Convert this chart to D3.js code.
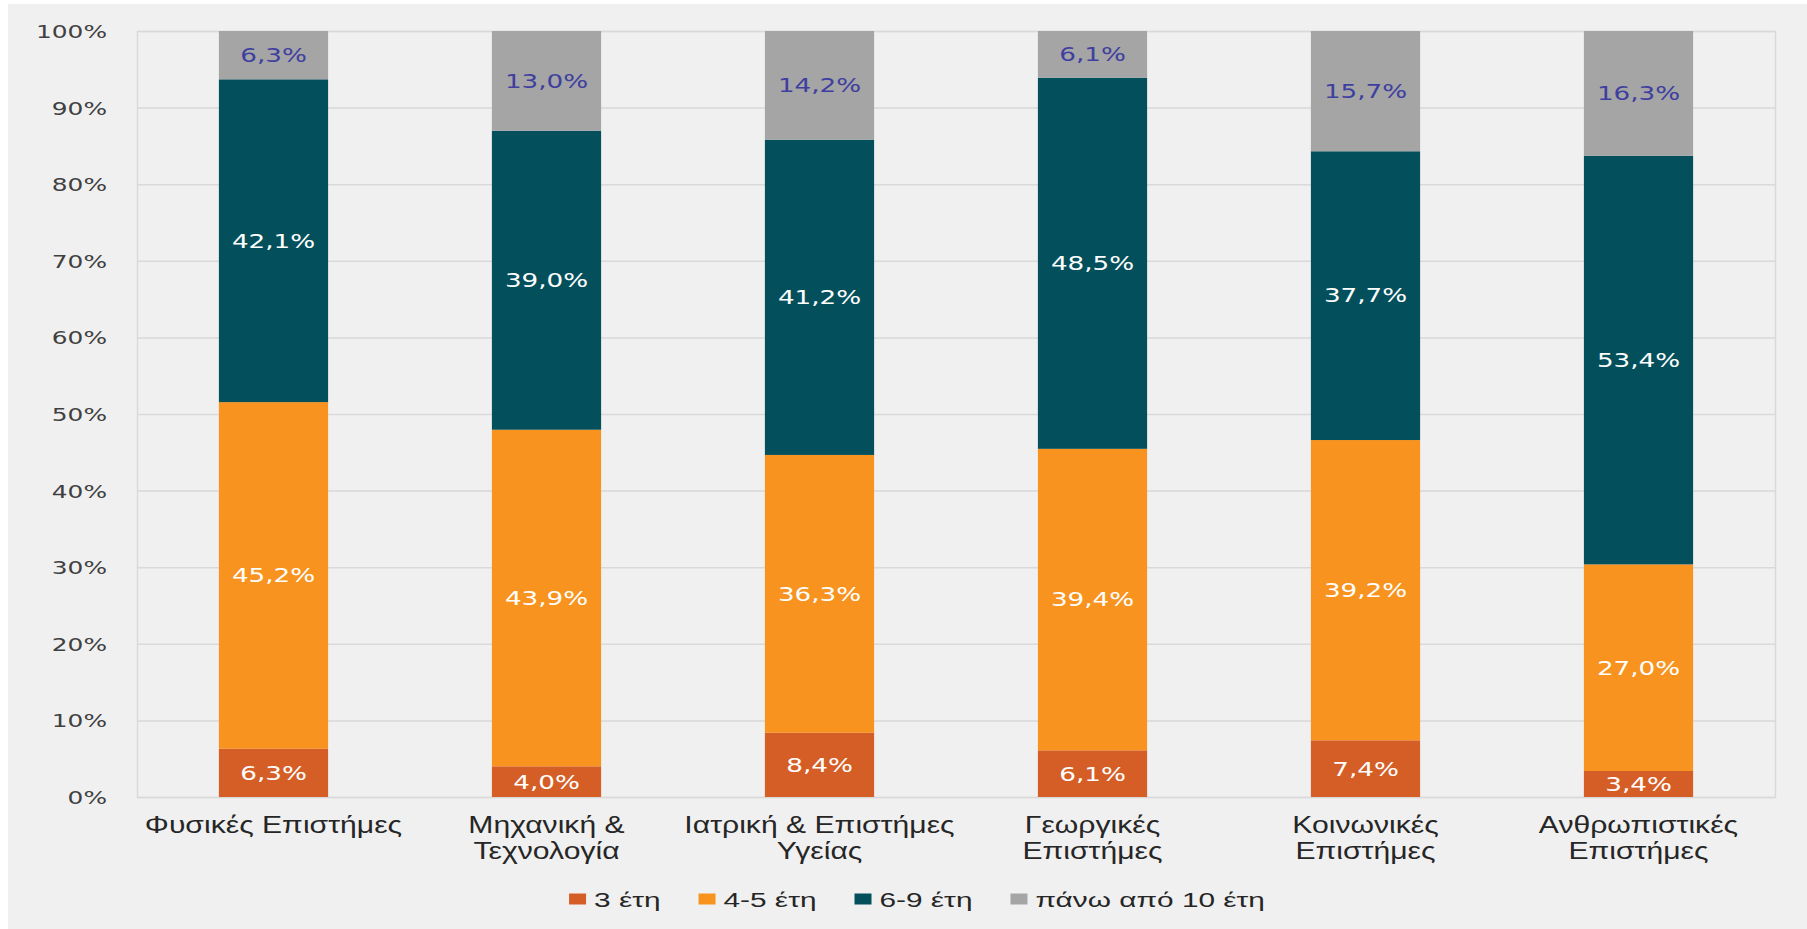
<!DOCTYPE html>
<html>
<head>
<meta charset="utf-8">
<script src="https://cdn.jsdelivr.net/npm/d3@7"></script>
<style>
  html, body { margin: 0; padding: 0; background: #ffffff; }
  svg { display: block; }
  .tick-label { font-family: "DejaVu Sans", Verdana, sans-serif; font-size: 18px; fill: #404040; }
  .value { font-family: "DejaVu Sans", Verdana, sans-serif; font-size: 19px; }
  .cat { font-family: "Liberation Sans", Arial, sans-serif; font-size: 23px; fill: #262626; }
  .legend-text { font-family: "Liberation Sans", Arial, sans-serif; font-size: 21px; fill: #262626; }
</style>
</head>
<body>
<svg></svg>
<script>
// categories (each split into the lines shown under the axis)
const categories = [
  "Φυσικές Επιστήμες",
  "Μηχανική & Τεχνολογία",
  "Ιατρική & Επιστήμες Υγείας",
  "Γεωργικές Επιστήμες",
  "Κοινωνικές Επιστήμες",
  "Ανθρωπιστικές Επιστήμες"
];
const categoryLines = [
  ["Φυσικές Επιστήμες"],
  ["Μηχανική &", "Τεχνολογία"],
  ["Ιατρική & Επιστήμες", "Υγείας"],
  ["Γεωργικές", "Επιστήμες"],
  ["Κοινωνικές", "Επιστήμες"],
  ["Ανθρωπιστικές", "Επιστήμες"]
];

// series
const seriesNames = ["3 έτη", "4-5 έτη", "6-9 έτη", "πάνω από 10 έτη"];
const years3 = [6.3, 4.0, 8.4, 6.1, 7.4, 3.4];
const years4to5 = [45.2, 43.9, 36.3, 39.4, 39.2, 27.0];
const years6to9 = [42.1, 39.0, 41.2, 48.5, 37.7, 53.4];
const years10plus = [6.3, 13.0, 14.2, 6.1, 15.7, 16.3];

const yTicks = [0, 0.1, 0.2, 0.3, 0.4, 0.5, 0.6, 0.7, 0.8, 0.9, 1];

const colors = ["#d55e27", "#f7931e", "#03505c", "#a5a5a5"];
const labelColors = ["#ffffff", "#ffffff", "#ffffff", "#3f3fa0"];

// text in the reference is stretched sideways
const sx = 1.38;
const sxCat = 1.31;
const sxLeg = 1.42;

const width = 1807;
const height = 929;
const margin = { left: 137, right: 32, top: 31, bottom: 132 };

const svg = d3.select("svg").attr("width", width).attr("height", height);

// grey panel
svg.append("rect")
  .attr("x", 8).attr("y", 4)
  .attr("width", width - 8).attr("height", height - 4)
  .attr("fill", "#f0f0f0");

// build table for stack
const table = categories.map((c, i) => ({
  cat: c,
  [seriesNames[0]]: years3[i],
  [seriesNames[1]]: years4to5[i],
  [seriesNames[2]]: years6to9[i],
  [seriesNames[3]]: years10plus[i]
}));

const stacked = d3.stack()
  .keys(seriesNames)
  .offset(d3.stackOffsetExpand)(table);

const x = d3.scaleBand()
  .domain(categories)
  .range([margin.left, width - margin.right])
  .paddingInner(0.6)
  .paddingOuter(0.3);

const y = d3.scaleLinear()
  .domain([0, 1])
  .range([height - margin.bottom, margin.top]);

// gridlines
svg.append("g")
  .attr("class", "grid")
  .selectAll("line")
  .data(yTicks)
  .enter()
  .append("line")
  .attr("x1", margin.left)
  .attr("x2", width - margin.right)
  .attr("y1", d => y(d) + 0.5)
  .attr("y2", d => y(d) + 0.5)
  .attr("stroke", "#d9d9d9")
  .attr("stroke-width", 1.5);

// plot border sides
svg.append("rect")
  .attr("x", margin.left + 0.5)
  .attr("y", y(1) + 0.5)
  .attr("width", width - margin.right - margin.left)
  .attr("height", y(0) - y(1))
  .attr("fill", "none")
  .attr("stroke", "#d9d9d9")
  .attr("stroke-width", 1.5);

// y axis labels
const yAxis = d3.axisLeft(y)
  .tickValues(yTicks)
  .tickSize(0)
  .tickFormat(d3.format(".0%"));

const yAxisG = svg.append("g")
  .attr("transform", `translate(${margin.left - 30}, 0)`)
  .call(yAxis);
yAxisG.select(".domain").remove();
yAxisG.attr("font-size", null).attr("font-family", null);
yAxisG.selectAll("text")
  .attr("class", "tick-label")
  .attr("x", 0)
  .attr("dy", "0.36em")
  .attr("transform", `scale(${sx},1)`);

const fmt = v => d3.format(".1f")(v).replace(".", ",") + "%";

// bars
const layers = svg.selectAll("g.layer")
  .data(stacked)
  .enter()
  .append("g")
  .attr("class", "layer")
  .attr("fill", (d, i) => colors[i]);

layers.selectAll("rect")
  .data(d => d)
  .enter()
  .append("rect")
  .attr("x", d => x(d.data.cat))
  .attr("y", d => y(d[1]))
  .attr("width", x.bandwidth())
  .attr("height", d => y(d[0]) - y(d[1]));

// data labels
layers.each(function (layer, li) {
  d3.select(this)
    .selectAll("text")
    .data(layer)
    .enter()
    .append("text")
    .attr("class", "value")
    .attr("text-anchor", "middle")
    .attr("dy", "0.36em")
    .attr("fill", labelColors[li])
    .attr("transform", d => {
      const cx = x(d.data.cat) + x.bandwidth() / 2;
      const cy = y((d[0] + d[1]) / 2);
      return `translate(${cx},${cy}) scale(${sx},1)`;
    })
    .text(d => fmt(d.data[layer.key]));
});

// category labels
const catG = svg.selectAll("g.catlabel")
  .data(categories)
  .enter()
  .append("g")
  .attr("class", "catlabel")
  .attr("transform", d => `translate(${x(d) + x.bandwidth() / 2}, ${y(0) + 36}) scale(${sxCat},1)`);

catG.selectAll("text")
  .data((d, i) => categoryLines[i])
  .enter()
  .append("text")
  .attr("class", "cat")
  .attr("text-anchor", "middle")
  .attr("y", (d, i) => i * 26)
  .text(d => d);

// legend
const legend = svg.append("g").attr("transform", `translate(0, ${height - 30})`);
const items = legend.selectAll("g.item")
  .data(seriesNames)
  .enter()
  .append("g")
  .attr("class", "item");
items.append("rect")
  .attr("width", 17)
  .attr("height", 11)
  .attr("y", -5.5)
  .attr("fill", (d, i) => colors[i]);
items.append("text")
  .attr("class", "legend-text")
  .attr("transform", `translate(25,0) scale(${sxLeg},1)`)
  .attr("dy", "0.36em")
  .text(d => d);

// place legend items side by side
let offsets = [];
let pos = 0;
items.each(function () {
  offsets.push(pos);
  const tw = d3.select(this).select("text").node().getComputedTextLength() * sxLeg;
  pos += 25 + tw + 38;
});
const total = pos - 38;
const start = 917 - total / 2;
items.attr("transform", (d, i) => `translate(${start + offsets[i]}, 0)`);
</script>
</body>
</html>
